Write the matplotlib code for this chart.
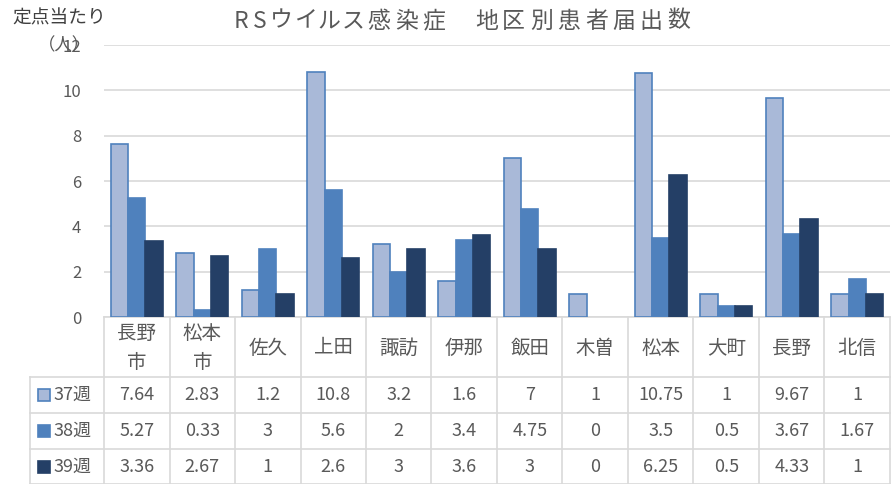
import numpy as np
import matplotlib
matplotlib.use('Agg')
import matplotlib.pyplot as plt
from matplotlib.lines import Line2D
from matplotlib.patches import Rectangle
import matplotlib.transforms as mtrans

plt.rcParams['font.family'] = ['Noto Sans CJK JP', 'DejaVu Sans']

# data
areas = ['長野\n市', '松本\n市', '佐久', '上田', '諏訪', '伊那', '飯田', '木曽', '松本', '大町', '長野', '北信']
weeks = ['37週', '38週', '39週']
w37 = [7.64, 2.83, 1.2, 10.8, 3.2, 1.6, 7, 1, 10.75, 1, 9.67, 1]
w38 = [5.27, 0.33, 3, 5.6, 2, 3.4, 4.75, 0, 3.5, 0.5, 3.67, 1.67]
w39 = [3.36, 2.67, 1, 2.6, 3, 3.6, 3, 0, 6.25, 0.5, 4.33, 1]
labels37 = ['7.64', '2.83', '1.2', '10.8', '3.2', '1.6', '7', '1', '10.75', '1', '9.67', '1']
labels38 = ['5.27', '0.33', '3', '5.6', '2', '3.4', '4.75', '0', '3.5', '0.5', '3.67', '1.67']
labels39 = ['3.36', '2.67', '1', '2.6', '3', '3.6', '3', '0', '6.25', '0.5', '4.33', '1']
title = 'RSウイルス感染症  地区別患者届出数'

fills = ['#A9B9D8', '#4F81BD', '#243F66']
edges = ['#4F81BD', '#4F81BD', '#243F66']
grey = '#595959'
linec = '#D9D9D9'

W, H = 894, 484
fig = plt.figure(figsize=(W / 100, H / 100), dpi=100)
# plot area in pixels: left 104, right 890, y0 at 317, y12 at 45
ax = fig.add_axes([104 / W, (H - 317) / H, 786 / W, 272 / H])

x = np.arange(len(areas))
bw = 0.267
series = [w37, w38, w39]
for i, vals in enumerate(series):
    lws = [1.2 if v > 0 else 0 for v in vals]
    ax.bar(x + (i - 1) * bw, vals, bw, color=fills[i], edgecolor=edges[i], linewidth=lws, zorder=3)

ax.set_xlim(-0.5, len(areas) - 0.5)
ax.set_ylim(0, 12)
ax.set_yticks(range(0, 13, 2))
ax.yaxis.grid(True, color=linec, linewidth=1.2, zorder=0)
ax.tick_params(axis='y', length=0, pad=16.5, labelsize=12, labelcolor=grey)
ax.set_xticks([])
for s in ['top', 'right', 'left']:
    ax.spines[s].set_visible(False)
ax.spines['bottom'].set_color(linec)
ax.spines['bottom'].set_linewidth(1.2)

# title, spaced out like the original
adv = {'R': 19, 'S': 19, ' ': 12.5, 'ウ': 24, 'イ': 24, 'ル': 24, 'ス': 24}
px = 232
for ch in title:
    a = adv.get(ch, 27.5)
    if ch != ' ':
        fig.text((px + a / 2 - 1) / W, 1 - 21 / H, ch, ha='center', va='center',
                 fontsize=16.5, color=grey)
    px += a

fig.text(12 / W, 1 - 18 / H, '定点当たり', ha='left', va='center', fontsize=13.5, color='#404040')
fig.text(38 / W, 1 - 45 / H, '（人）', ha='left', va='center', fontsize=12.5, color=grey)

# data table
tr = mtrans.blended_transform_factory(ax.transData, fig.transFigure)
fy = lambda py: 1 - py / H
row_edges = [317, 377, 413, 449, 484]
for b in np.arange(-0.5, len(areas) + 0.5, 1):
    fig.add_artist(Line2D([b, b], [fy(317), fy(484)], transform=tr, color=linec, lw=1.2))
fig.add_artist(Line2D([30 / W, 30 / W], [fy(377), fy(484)], transform=fig.transFigure, color=linec, lw=1.2))
for r in row_edges[1:]:
    fig.add_artist(Line2D([30 / W, 890 / W], [fy(r), fy(r)], transform=fig.transFigure, color=linec, lw=1.2))

for j, a in enumerate(areas):
    fig.text(j, fy(348), a, transform=tr, ha='center', va='center', fontsize=14,
             color=grey, linespacing=1.45)

rows = [labels37, labels38, labels39]
for i, labs in enumerate(rows):
    yc = (row_edges[i + 1] + row_edges[i + 2]) / 2
    for j, t in enumerate(labs):
        fig.text(j, fy(yc), t, transform=tr, ha='center', va='center', fontsize=13, color=grey)
    fig.add_artist(Rectangle((38 / W, fy(yc + 6)), 12 / W, 12 / H, transform=fig.transFigure,
                             facecolor=fills[i], edgecolor=edges[i], lw=1.2))
    fig.text(54 / W, fy(yc), weeks[i], ha='left', va='center', fontsize=13, color=grey)

fig.savefig('out.png', dpi=100, facecolor='white')
